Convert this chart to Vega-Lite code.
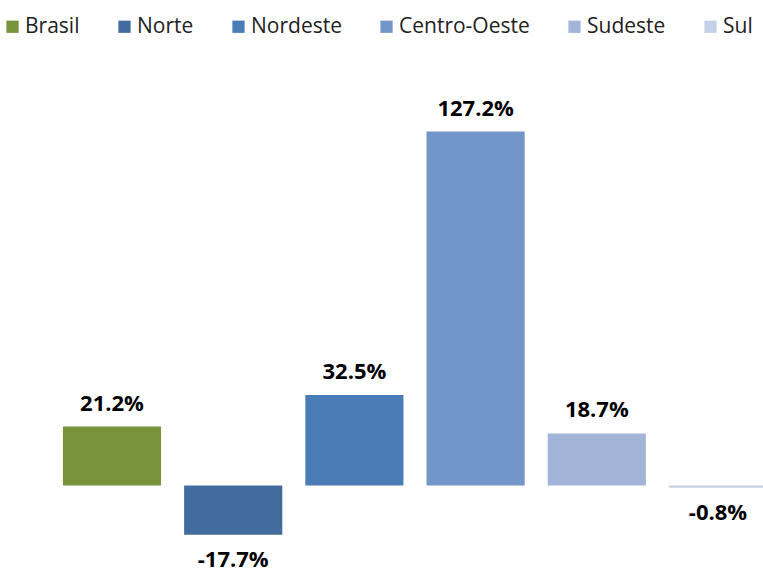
{
  "$schema": "https://vega.github.io/schema/vega-lite/v6.json",
  "autosize": "none",
  "width": 711,
  "height": 473,
  "padding": {"left": 52, "top": 96, "right": 0, "bottom": 3},
  "background": "white",
  "config": {"view": {"stroke": null}, "font": "Open Sans"},
  "data": {"values": [
    {"regiao": "Brasil", "valor": 21.2, "rotulo": "21.2%"},
    {"regiao": "Norte", "valor": -17.7, "rotulo": "-17.7%"},
    {"regiao": "Nordeste", "valor": 32.5, "rotulo": "32.5%"},
    {"regiao": "Centro-Oeste", "valor": 127.2, "rotulo": "127.2%"},
    {"regiao": "Sudeste", "valor": 18.7, "rotulo": "18.7%"},
    {"regiao": "Sul", "valor": -0.8, "rotulo": "-0.8%"}
  ]},
  "encoding": {
    "x": {"field": "regiao", "type": "nominal", "sort": null, "axis": null,
          "scale": {"range": [0, 726], "paddingInner": 0.19, "paddingOuter": 0.09}}
  },
  "layer": [
    {
      "mark": {"type": "bar"},
      "encoding": {
        "y": {"field": "valor", "type": "quantitative", "axis": null, "scale": {"domain": [-30, 140], "nice": false}},
        "y2": {"datum": 0},
        "color": {"field": "regiao", "type": "nominal", "sort": null,
          "scale": {"domain": ["Brasil", "Norte", "Nordeste", "Centro-Oeste", "Sudeste", "Sul"],
                    "range": ["#77933C", "#436C9E", "#4A7DB7", "#7396C8", "#A2B5D8", "#C5D1E7"]},
          "legend": {"title": null, "orient": "none", "direction": "horizontal", "legendX": -50, "legendY": -80,
                     "symbolType": "square", "symbolSize": 150, "symbolStrokeWidth": 0, "labelFontSize": 21,
                     "labelFont": "Open Sans", "labelColor": "#222", "columnPadding": 34, "labelOffset": 2}}
      }
    },
    {
      "transform": [{"filter": "datum.valor >= 0"}],
      "mark": {"type": "text", "baseline": "bottom", "dy": -11, "fontWeight": "bold", "fontSize": 22, "color": "#000"},
      "encoding": {
        "y": {"field": "valor", "type": "quantitative"},
        "text": {"field": "rotulo"}
      }
    },
    {
      "transform": [{"filter": "datum.valor < 0"}],
      "mark": {"type": "text", "baseline": "top", "dy": 15, "fontWeight": "bold", "fontSize": 22, "color": "#000"},
      "encoding": {
        "y": {"field": "valor", "type": "quantitative"},
        "text": {"field": "rotulo"}
      }
    }
  ]
}
